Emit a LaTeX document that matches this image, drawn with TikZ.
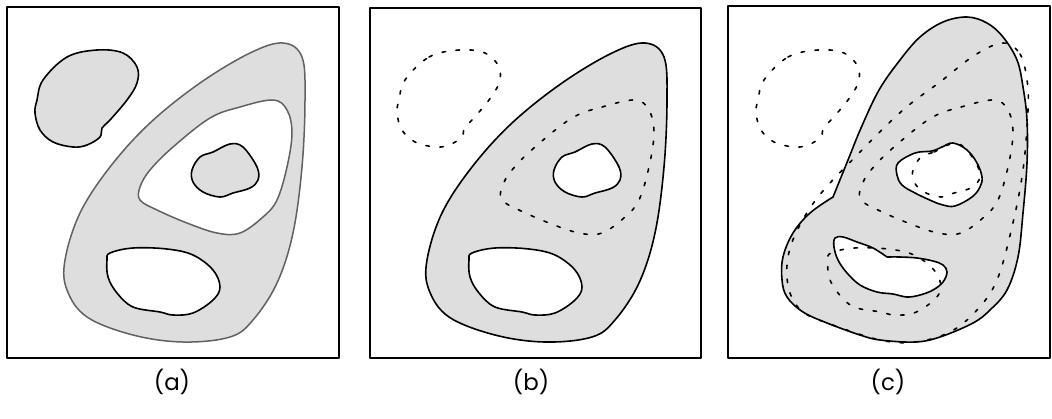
\documentclass[tikz,border=0pt]{standalone}
\usepackage{fontspec}
\setmainfont{Poppins}
\usepackage{tikz}

% outlines shared by the three panels
\newcommand{\topblob}{plot[smooth cycle,tension=0.6] coordinates {(43,80) (67,57) (97,50) (123,53) (137,67) (137,83) (127,100) (110,120) (102,128) (100,137) (87,145) (73,147) (53,142) (40,130) (35,113) (37,100)}}
\newcommand{\teardrop}{plot[smooth cycle,tension=0.6] coordinates {(283,43) (302,57) (305,100) (302,167) (293,233) (277,283) (253,320) (230,337) (183,342) (133,335) (87,317) (67,290) (65,260) (80,213) (110,167) (150,123) (200,83) (250,53)}}
\newcommand{\innerloop}{plot[smooth cycle,tension=0.6] coordinates {(210,118) (240,107) (273,100) (287,110) (292,133) (287,167) (277,200) (263,217) (240,233) (217,233) (187,223) (157,210) (140,200) (140,187) (150,170) (173,147)}}
\newcommand{\knob}{plot[smooth cycle,tension=0.6] coordinates {(200,157) (213,152) (230,144) (243,147) (257,167) (258,180) (250,188) (233,193) (220,197) (203,192) (193,182) (192,170)}}
\newcommand{\lowerhole}{plot[smooth cycle,tension=0.6] coordinates {(110,253) (133,248) (167,249) (193,255) (213,270) (220,287) (213,300) (193,313) (173,315) (160,312) (133,307) (117,293) (108,277) (107,260)}}

\begin{document}
\begin{tikzpicture}[line cap=round,line join=round,x=1bp,y=-1bp,
    frame/.style={line width=1.6bp},
    solid line/.style={line width=1.6bp,draw=black},
    grey line/.style={line width=1.5bp,draw=black!62},
    ghost/.style={line width=1.6bp,draw=black,dash pattern=on 3.5bp off 10.5bp},
    label/.style={font=\fontsize{23}{26}\selectfont}]
\useasboundingbox (0,0) rectangle (1052,418);
%%%% panel a
\draw[frame] (7,7) rectangle (339,358);
\filldraw[grey line,fill=black!13] \teardrop;%outer
\filldraw[grey line,fill=white] \innerloop;%ring hole
\filldraw[solid line,fill=black!13] \knob;
\filldraw[solid line,fill=white] \lowerhole;
\filldraw[solid line,fill=black!13] \topblob;
%%%% panel b
\draw[frame] (370,8) rectangle (701,358);
\begin{scope}[shift={(362,0)}]
\filldraw[solid line,fill=black!13] \teardrop;
\draw[ghost] \innerloop;
\filldraw[solid line,fill=white] \knob;%now a hole
\filldraw[solid line,fill=white] \lowerhole;
\draw[ghost] \topblob;
\end{scope}
%%%% panel c
\draw[frame] (728,6) rectangle (1050,358);
% new outer, kinked on the left
\filldraw[solid line,fill=black!13] plot[smooth,tension=0.6] coordinates {(833,197) (848,160) (861,128) (879,90) (900,60) (920,37) (943,22) (967,17) (987,23) (1003,37) (1017,60) (1023,87) (1027,120) (1027,163) (1023,213) (1018,257) (1007,290) (990,310) (973,323) (940,337) (915,342) (880,340) (860,335) (827,323) (803,312) (787,297) (782,280) (783,257) (793,233) (810,213) (833,197)} -- cycle;
% new holes
\filldraw[solid line,fill=white] plot[smooth cycle,tension=0.6] coordinates {(898,163) (915,153) (932,151) (942,147) (953,143) (967,150) (977,163) (982,177) (980,187) (972,197) (955,206) (943,205) (932,201) (915,193) (902,185) (897,175)};
\filldraw[solid line,fill=white] plot[smooth,tension=0.6] coordinates {(887,257) (900,257) (917,258) (933,261) (943,265) (947,272) (943,282) (933,290) (920,295) (907,297) (893,294) (877,292) (860,285) (847,273) (838,260) (834,247) (835,238) (843,237) (857,242) (873,248) (887,257)} -- cycle;
% old outlines, dashed
\draw[ghost] plot[smooth cycle,tension=0.6] coordinates {(1003,43) (1020,54) (1027,80) (1028,110) (1023,170) (1012,227) (997,280) (977,310) (950,332) (915,342) (880,340) (830,324) (803,312) (790,293) (787,265) (795,235) (818,197) (860,152) (903,110) (940,82) (975,55)};
\begin{scope}[shift={(721,0)}]
\draw[ghost] \innerloop;
\draw[ghost] \knob;
\draw[ghost] \lowerhole;
\draw[ghost] \topblob;
\end{scope}
%labels
\node[label] at (172,382) (la) {(a)};
\node[label] at (531,382) (lb) {(b)};
\node[label] at (888,382) (lc) {(c)};
\end{tikzpicture}
\end{document}
